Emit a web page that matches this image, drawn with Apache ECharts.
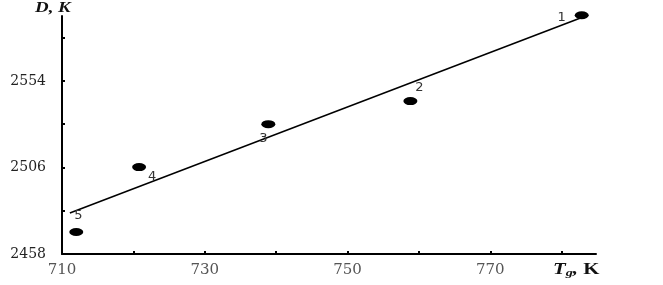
<!DOCTYPE html>
<html><head><meta charset="utf-8">
<script src="https://cdn.jsdelivr.net/npm/echarts@6/dist/echarts.min.js"></script>
<style>html,body{margin:0;padding:0;background:#fff}#c{width:663px;height:285px}</style>
</head><body><div id="c"></div>
<script>
const pointLabels = ['1','2','3','4','5'];
const tgValues = [782.8, 758.8, 738.9, 720.8, 712.0];
const dValues = [2590.4, 2542.8, 2530.0, 2506.2, 2470.2];
const fitX = [711.1, 782.9];
const fitY = [2480.7, 2589.3];
const xTickLabels = [710, 730, 750, 770];
const yTickLabels = [2458, 2506, 2554];

const labelPos = {
  '1': {position:'left', offset:[-4,2]},
  '2': {position:'top', offset:[9,2]},
  '3': {position:'bottom', offset:[-5,-1]},
  '4': {position:'right', offset:[-3,10]},
  '5': {position:'top', offset:[2,-1]}
};

const pts = tgValues.map((x,i)=>({
  value:[x,dValues[i]],
  label:Object.assign({show:true, formatter:pointLabels[i], color:'#333', fontSize:13, fontFamily:'DejaVu Sans'}, labelPos[pointLabels[i]])
}));

const chart = echarts.init(document.getElementById('c'), null, {renderer:'canvas'});
chart.setOption({
  animation:false,
  backgroundColor:'#fff',
  grid:{left:62, right:67, top:16, bottom:31},
  xAxis:{
    type:'value', min:710, max:784.8, interval:10,
    axisLine:{lineStyle:{color:'#000', width:2}},
    axisTick:{inside:true, length:3, lineStyle:{color:'#000', width:2}},
    splitLine:{show:false},
    axisLabel:{margin:9, color:'#555', fontFamily:'DejaVu Serif', fontSize:15,
      formatter:v=> xTickLabels.includes(Math.round(v)) ? String(Math.round(v)) : '',
      showMaxLabel:false}
  },
  yAxis:{
    type:'value', min:2458, max:2590, interval:24,
    axisLine:{show:true, lineStyle:{color:'#000', width:2}},
    axisTick:{show:true, inside:true, length:3, lineStyle:{color:'#000', width:2}},
    splitLine:{show:false},
    axisLabel:{margin:16, color:'#222', fontFamily:'DejaVu Serif', fontSize:14,
      formatter:v=> yTickLabels.includes(Math.round(v)) ? String(Math.round(v)) : '',
      showMaxLabel:false}
  },
  graphic:[{
    type:'text', x:35, y:1, scaleX:1.35,
    style:{
      text:'D, K',
      font:'italic bold 14px "Liberation Serif"', fill:'#111'
    }
  },{
    type:'text', x:553, y:260, scaleX:1.3,
    style:{
      text:'{t|T}{g|g}{t|, }{k|K}',
      rich:{
        t:{fontFamily:'Liberation Serif', fontStyle:'italic', fontWeight:'bold', fontSize:16, fill:'#111'},
        g:{fontFamily:'Liberation Serif', fontStyle:'italic', fontWeight:'bold', fontSize:11, fill:'#111', verticalAlign:'bottom', padding:[8,0,0,0]},
        k:{fontFamily:'Liberation Serif', fontWeight:'bold', fontSize:16, fill:'#111'}
      }
    }
  }],
  series:[
    {type:'line', data:fitX.map((x,i)=>[x,fitY[i]]), symbol:'none', lineStyle:{color:'#000', width:1.5}, z:2},
    {type:'scatter', data:pts, symbol:'circle', symbolSize:[14,8], itemStyle:{color:'#000', opacity:1}, z:3, clip:false}
  ]
});
</script></body></html>
